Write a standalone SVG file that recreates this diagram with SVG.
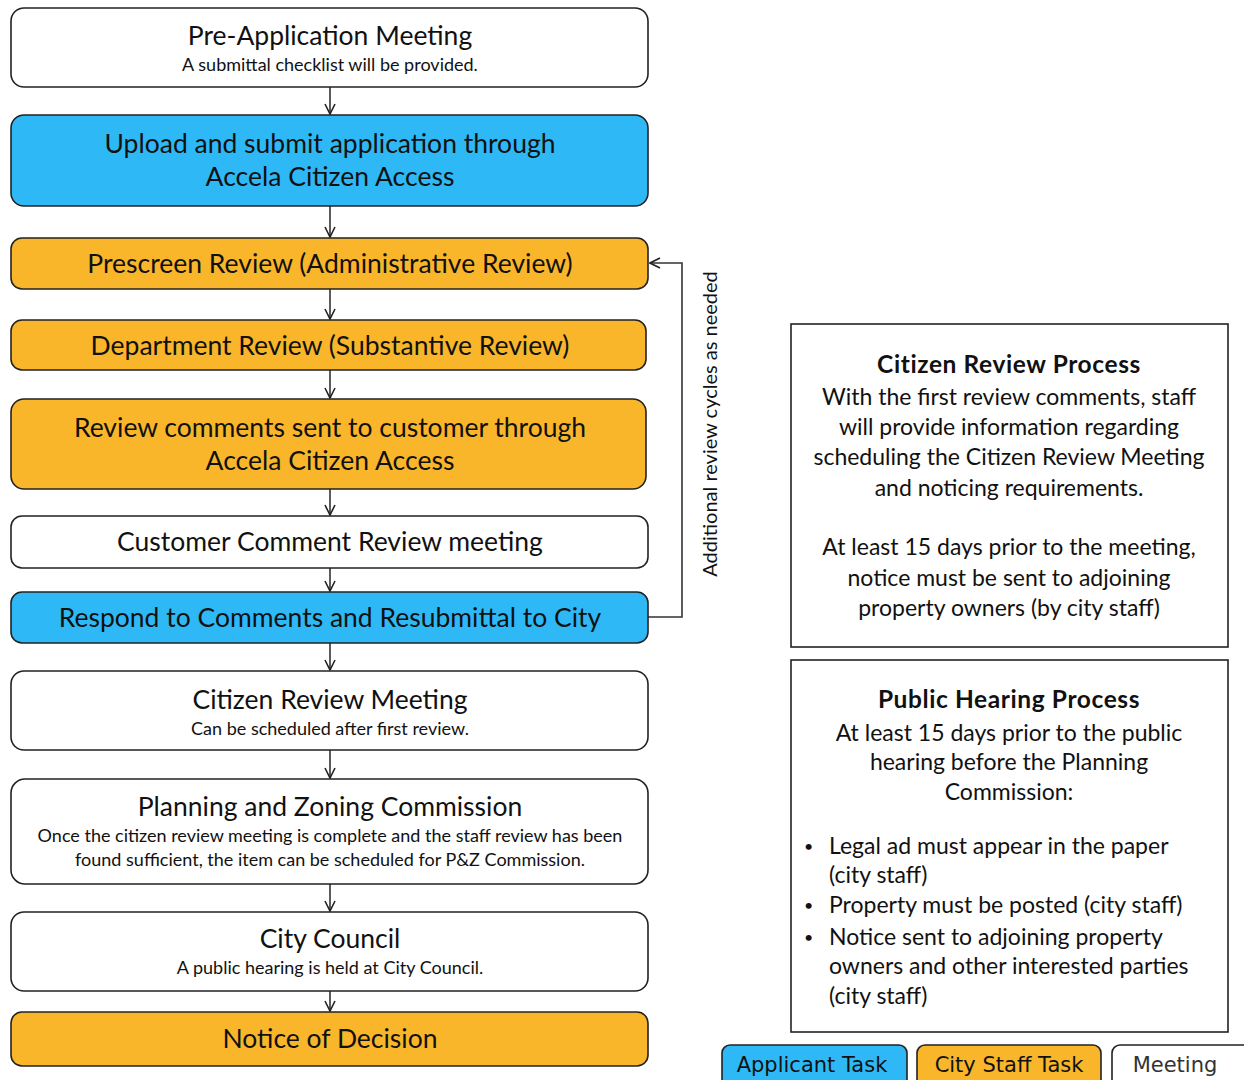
<svg xmlns="http://www.w3.org/2000/svg" width="1244" height="1080" viewBox="0 0 1244 1080">
<style>
.n{stroke:#222;stroke-width:1.6}
.w{fill:#fff}.b{fill:#2EB9F6}.o{fill:#F9B62B}
text{font-family:Lato,"Open Sans","Liberation Sans",sans-serif;fill:#111}
.t{font-size:26.5px;text-anchor:middle}
.s{font-size:18px;text-anchor:middle}
.r{font-size:23px;text-anchor:middle}
.rb{font-size:24.5px;font-weight:bold;text-anchor:middle;letter-spacing:0.6px}
.l{font-size:23px}
.bu{font-size:16px}
.lg{font-size:21px;text-anchor:middle;font-family:"DejaVu Sans",sans-serif}
.c{fill:none;stroke:#333;stroke-width:1.6}
</style>
<defs>
<marker id="a" viewBox="0 0 12 12" refX="11" refY="6" markerWidth="12" markerHeight="12" markerUnits="userSpaceOnUse" orient="auto">
<path d="M1,1 L11,6 L1,11" fill="none" stroke="#222" stroke-width="1.6"/>
</marker>
</defs>
<rect width="1244" height="1080" fill="#fff"/>
<g id="connectors">
<line class="c" x1="330" y1="87" x2="330" y2="114" marker-end="url(#a)"/>
<line class="c" x1="330" y1="206" x2="330" y2="237" marker-end="url(#a)"/>
<line class="c" x1="330" y1="289" x2="330" y2="319" marker-end="url(#a)"/>
<line class="c" x1="330" y1="370" x2="330" y2="398" marker-end="url(#a)"/>
<line class="c" x1="330" y1="489" x2="330" y2="515" marker-end="url(#a)"/>
<line class="c" x1="330" y1="568" x2="330" y2="591" marker-end="url(#a)"/>
<line class="c" x1="330" y1="643" x2="330" y2="670" marker-end="url(#a)"/>
<line class="c" x1="330" y1="750" x2="330" y2="778" marker-end="url(#a)"/>
<line class="c" x1="330" y1="884" x2="330" y2="911" marker-end="url(#a)"/>
<line class="c" x1="330" y1="991" x2="330" y2="1011" marker-end="url(#a)"/>
<polyline class="c" points="648,617 682,617 682,263 650,263" marker-end="url(#a)"/>
<text transform="translate(717,424) rotate(-90)" text-anchor="middle" font-size="20">Additional review cycles as needed</text>
</g>
<g id="n1"><rect class="n w" x="11" y="8" width="637" height="79" rx="13"/>
<text class="t" x="330" y="45">Pre-Application Meeting</text>
<text class="s" x="330" y="71">A submittal checklist will be provided.</text></g>
<g id="n2"><rect class="n b" x="11" y="115" width="637" height="91" rx="13"/>
<text class="t" x="330" y="153">Upload and submit application through</text>
<text class="t" x="330" y="186">Accela Citizen Access</text></g>
<g id="n3"><rect class="n o" x="11" y="238" width="637" height="51" rx="11"/>
<text class="t" x="330" y="273">Prescreen Review (Administrative Review)</text></g>
<g id="n4"><rect class="n o" x="11" y="320" width="635" height="50" rx="11"/>
<text class="t" x="330" y="355">Department Review (Substantive Review)</text></g>
<g id="n5"><rect class="n o" x="11" y="399" width="635" height="90" rx="13"/>
<text class="t" x="330" y="437">Review comments sent to customer through</text>
<text class="t" x="330" y="470">Accela Citizen Access</text></g>
<g id="n6"><rect class="n w" x="11" y="516" width="637" height="52" rx="11"/>
<text class="t" x="330" y="551">Customer Comment Review meeting</text></g>
<g id="n7"><rect class="n b" x="11" y="592" width="637" height="51" rx="11"/>
<text class="t" x="330" y="627">Respond to Comments and Resubmittal to City</text></g>
<g id="n8"><rect class="n w" x="11" y="671" width="637" height="79" rx="13"/>
<text class="t" x="330" y="709">Citizen Review Meeting</text>
<text class="s" x="330" y="735">Can be scheduled after first review.</text></g>
<g id="n9"><rect class="n w" x="11" y="779" width="637" height="105" rx="14"/>
<text class="t" x="330" y="816">Planning and Zoning Commission</text>
<text class="s" x="330" y="842">Once the citizen review meeting is complete and the staff review has been</text>
<text class="s" x="330" y="866">found sufficient, the item can be scheduled for P&amp;Z Commission.</text></g>
<g id="n10"><rect class="n w" x="11" y="912" width="637" height="79" rx="13"/>
<text class="t" x="330" y="948">City Council</text>
<text class="s" x="330" y="974">A public hearing is held at City Council.</text></g>
<g id="n11"><rect class="n o" x="11" y="1012" width="637" height="54" rx="11"/>
<text class="t" x="330" y="1048">Notice of Decision</text></g>
<g id="citizen-review-process"><rect x="791" y="324" width="437" height="323" fill="#fff" stroke="#222" stroke-width="1.6"/>
<text class="rb" x="1009" y="373">Citizen Review Process</text>
<text class="r" x="1009" y="405">With the first review comments, staff</text>
<text class="r" x="1009" y="435">will provide information regarding</text>
<text class="r" x="1009" y="465">scheduling the Citizen Review Meeting</text>
<text class="r" x="1009" y="496">and noticing requirements.</text>
<text class="r" x="1009" y="555">At least 15 days prior to the meeting,</text>
<text class="r" x="1009" y="586">notice must be sent to adjoining</text>
<text class="r" x="1009" y="616">property owners (by city staff)</text></g>
<g id="public-hearing-process"><rect x="791" y="660" width="437" height="372" fill="#fff" stroke="#222" stroke-width="1.6"/>
<text class="rb" x="1009" y="708">Public Hearing Process</text>
<text class="r" x="1009" y="741">At least 15 days prior to the public</text>
<text class="r" x="1009" y="770">hearing before the Planning</text>
<text class="r" x="1009" y="800">Commission:</text>
<text class="bu" x="804" y="852">•</text><text class="l" x="829" y="854">Legal ad must appear in the paper</text>
<text class="l" x="829" y="883">(city staff)</text>
<text class="bu" x="804" y="911">•</text><text class="l" x="829" y="913">Property must be posted (city staff)</text>
<text class="bu" x="804" y="943">•</text><text class="l" x="829" y="945">Notice sent to adjoining property</text>
<text class="l" x="829" y="974">owners and other interested parties</text>
<text class="l" x="829" y="1004">(city staff)</text></g>
<g id="legend-applicant"><rect class="n b" x="722" y="1045" width="185" height="50" rx="8"/>
<text class="lg" x="812" y="1072">Applicant Task</text></g>
<g id="legend-staff"><rect class="n o" x="917" y="1045" width="184" height="50" rx="8"/>
<text class="lg" x="1009" y="1072">City Staff Task</text></g>
<g id="legend-meeting"><rect class="n w" x="1112" y="1045" width="150" height="50" rx="8"/>
<text class="lg" x="1175" y="1072" style="fill:#333">Meeting</text></g>
</svg>
